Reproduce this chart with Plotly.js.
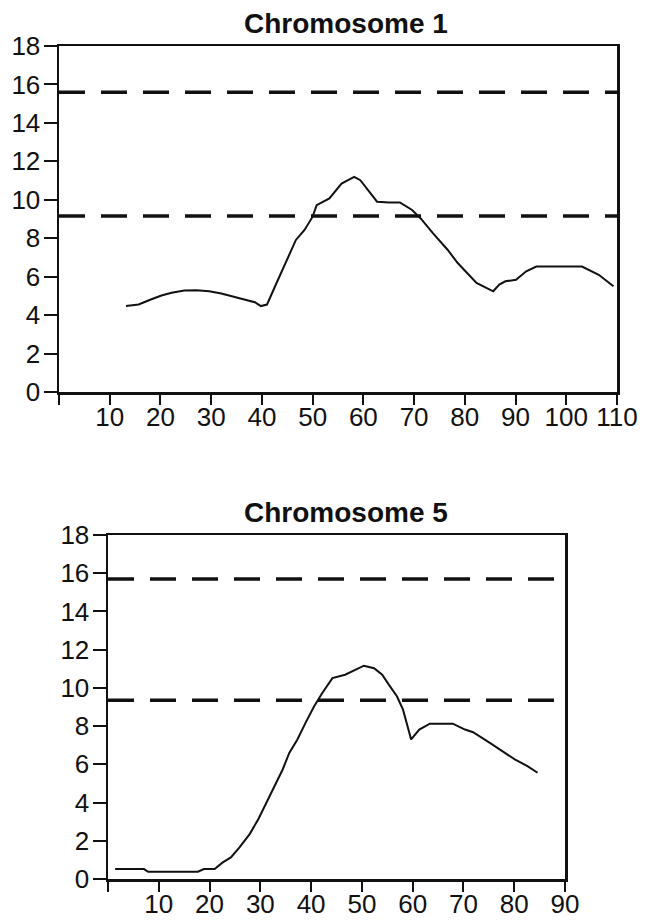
<!DOCTYPE html>
<html><head><meta charset="utf-8">
<script src="https://cdn.plot.ly/plotly-3.0.1.min.js"></script>
<style>html,body{margin:0;padding:0;background:#fff}#chart{width:650px;height:920px}</style>
</head><body><div id="chart"></div>
<script>
// ---- data ----
const chartTitles = ['Chromosome 1', 'Chromosome 5'];

const chr1Pos = [13.2, 15.7, 18.1, 20.2, 22.2, 24.7, 27.1, 29.6, 32.0, 34.1, 36.1, 38.6, 39.8, 41.0, 42.6, 44.7, 46.7, 48.4, 50.0, 50.8, 53.3, 55.7, 58.2, 59.4, 62.7, 65.1, 67.2, 69.6, 71.3, 73.7, 76.6, 78.6, 81.1, 82.3, 85.6, 86.8, 88.0, 90.1, 92.1, 94.1, 96.6, 99.9, 103.1, 106.4, 109.3];
const chr1Lod = [4.47, 4.55, 4.81, 5.02, 5.16, 5.28, 5.29, 5.24, 5.12, 4.98, 4.81, 4.67, 4.47, 4.55, 5.5, 6.7, 7.91, 8.43, 9.12, 9.72, 10.07, 10.84, 11.19, 11.02, 9.9, 9.86, 9.86, 9.47, 9.03, 8.26, 7.4, 6.71, 6.02, 5.67, 5.24, 5.59, 5.76, 5.84, 6.28, 6.53, 6.53, 6.53, 6.53, 6.1, 5.5];
const chr1Thresholds = [15.6, 9.15];
const chr1XMax = 110;

const chr5Pos = [1.4, 7.1, 7.9, 13.2, 17.7, 18.9, 21.0, 22.6, 24.2, 25.9, 27.9, 29.6, 31.2, 32.8, 34.4, 35.7, 37.3, 38.9, 40.6, 42.2, 44.2, 46.7, 48.7, 50.4, 52.4, 54.0, 55.3, 56.9, 58.1, 59.7, 61.3, 63.4, 65.4, 67.9, 70.3, 71.9, 75.2, 77.7, 80.1, 82.6, 84.6];
const chr5Lod = [0.52, 0.52, 0.38, 0.38, 0.38, 0.52, 0.52, 0.87, 1.13, 1.65, 2.35, 3.13, 4.0, 4.87, 5.73, 6.6, 7.3, 8.17, 9.04, 9.73, 10.51, 10.69, 10.95, 11.16, 11.03, 10.69, 10.17, 9.56, 8.86, 7.3, 7.82, 8.13, 8.13, 8.13, 7.82, 7.68, 7.12, 6.69, 6.26, 5.91, 5.56];
const chr5Thresholds = [15.7, 9.35];
const chr5XMax = 90;

const chr1XTickVals = [0, 10, 20, 30, 40, 50, 60, 70, 80, 90, 100, 110];
const chr1XTickText = ['', '10', '20', '30', '40', '50', '60', '70', '80', '90', '100', '110'];
const chr5XTickVals = [0, 10, 20, 30, 40, 50, 60, 70, 80, 90];
const chr5XTickText = ['', '10', '20', '30', '40', '50', '60', '70', '80', '90'];
const yTickVals = [0, 2, 4, 6, 8, 10, 12, 14, 16, 18];
const yTickText = ['0', '2', '4', '6', '8', '10', '12', '14', '16', '18'];

// ---- layout geometry (pixels) ----
const W = 650, H = 920;
const boxes = [
  {L: 59, R: 617, T: 46, B: 392},
  {L: 108, R: 565, T: 535, B: 879}
];
const fx = p => p / W, fy = p => 1 - p / H;
const FONT = 'Liberation Sans, Arial, sans-serif';

function curve(x, y, xa, ya) {
  return {x: x, y: y, xaxis: xa, yaxis: ya, type: 'scatter', mode: 'lines',
          line: {color: '#111', width: 2}, hoverinfo: 'skip'};
}
function thr(v, xmax, xa, ya) {
  return {x: [0, xmax], y: [v, v], xaxis: xa, yaxis: ya, type: 'scatter', mode: 'lines',
          line: {color: '#111', width: 3.5, dash: '26px,16px'}, hoverinfo: 'skip'};
}

const traces = [
  thr(chr1Thresholds[0], chr1XMax, 'x', 'y'),
  thr(chr1Thresholds[1], chr1XMax, 'x', 'y'),
  curve(chr1Pos, chr1Lod, 'x', 'y'),
  thr(chr5Thresholds[0], chr5XMax, 'x2', 'y2'),
  thr(chr5Thresholds[1], chr5XMax, 'x2', 'y2'),
  curve(chr5Pos, chr5Lod, 'x2', 'y2')
];

function xaxis(b, xmax, vals, text) {
  return {domain: [fx(b.L), fx(b.R)], range: [0, xmax], showgrid: false, zeroline: false,
    showline: true, linecolor: '#111', linewidth: 2.5, mirror: true,
    ticks: 'outside', ticklen: 10, tickwidth: 2, tickcolor: '#111',
    tickvals: vals, ticktext: text, tickangle: 0, ticklabelstandoff: -10,
    tickfont: {family: FONT, size: 26, color: '#111'}, fixedrange: true};
}
function yaxis(b) {
  return {domain: [fy(b.B), fy(b.T)], range: [0, 18], showgrid: false, zeroline: false,
    showline: true, linecolor: '#111', linewidth: 2.5, mirror: true,
    ticks: 'outside', ticklen: 13, tickwidth: 2, tickcolor: '#111',
    tickvals: yTickVals, ticktext: yTickText, ticklabelstandoff: -2,
    tickfont: {family: FONT, size: 26, color: '#111'}, fixedrange: true};
}

const layout = {
  width: W, height: H,
  margin: {l: 0, r: 0, t: 0, b: 0},
  paper_bgcolor: '#fff', plot_bgcolor: '#fff',
  showlegend: false,
  xaxis: xaxis(boxes[0], chr1XMax, chr1XTickVals, chr1XTickText),
  yaxis: Object.assign(yaxis(boxes[0]), {anchor: 'x'}),
  xaxis2: Object.assign(xaxis(boxes[1], chr5XMax, chr5XTickVals, chr5XTickText), {anchor: 'y2'}),
  yaxis2: Object.assign(yaxis(boxes[1]), {anchor: 'x2'}),
  annotations: [
    {text: chartTitles[0], xref: 'paper', yref: 'paper', x: fx(346), y: fy(24),
     xanchor: 'center', yanchor: 'middle', showarrow: false,
     font: {family: FONT, size: 28, color: '#111', weight: 'bold'}},
    {text: chartTitles[1], xref: 'paper', yref: 'paper', x: fx(346), y: fy(512),
     xanchor: 'center', yanchor: 'middle', showarrow: false,
     font: {family: FONT, size: 28, color: '#111', weight: 'bold'}}
  ]
};
layout.xaxis.anchor = 'y';

Plotly.newPlot('chart', traces, layout, {staticPlot: true, displayModeBar: false});
</script>
</body></html>
